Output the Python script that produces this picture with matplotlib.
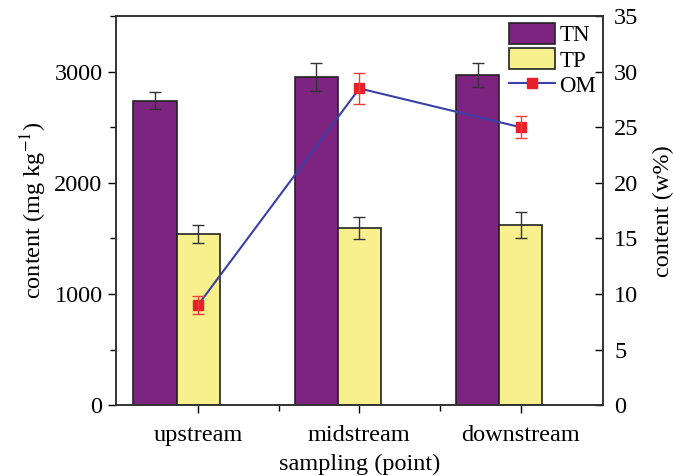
import numpy as np
import matplotlib.pyplot as plt
import matplotlib
from matplotlib.ticker import MultipleLocator

matplotlib.rcParams.update({'font.family': ['Liberation Serif', 'DejaVu Serif'],
                            'font.size': 17.5, 'mathtext.fontset': 'stix'})

sites = ['upstream', 'midstream', 'downstream']
tn = [2740, 2950, 2970]
tn_err = [75, 125, 105]
tp = [1540, 1595, 1620]
tp_err = [85, 100, 115]
om = [9.0, 28.5, 25.0]
om_err = [0.8, 1.4, 1.0]

fig = plt.figure(figsize=(6.73, 4.76), dpi=100)
ax = fig.add_axes([0.172, 0.149, 0.724, 0.817])

x = np.arange(len(sites))
w = 0.267
ebar = dict(ecolor='#333333', elinewidth=1, capsize=4, capthick=1)
b1 = ax.bar(x - w, tn, width=w, color='#7d2480', edgecolor='#222222', linewidth=1.2,
            yerr=tn_err, error_kw=ebar)
b2 = ax.bar(x, tp, width=w, color='#f8f08c', edgecolor='#222222', linewidth=1.2,
            yerr=tp_err, error_kw=ebar)
ax.set_ylim(0, 3500)
ax.set_xlim(-0.51, 2.51)
ax.set_yticks([0, 1000, 2000, 3000])
ax.yaxis.set_minor_locator(MultipleLocator(500))
ax.set_xticks(x)
ax.set_xticklabels(sites)
ax.set_xticks([0.5, 1.5], minor=True)
ax.tick_params(which='major', direction='out', length=6, width=1)
ax.tick_params(which='minor', direction='out', length=4, width=1)
ax.tick_params(axis='x', which='major', pad=8)
ax.set_xlabel('sampling (point)', labelpad=6)
ax.set_ylabel('content (mg kg$^{-1}$)', labelpad=4)

ax2 = ax.twinx()
ax2.set_ylim(0, 35)
ax2.set_yticks(np.arange(0, 36, 5))
ax2.tick_params(direction='in', length=6, width=1, pad=8)
ln, = ax2.plot(x, om, color='#3a40a8', linewidth=1.5, marker='s', markersize=7,
               markerfacecolor='#e8202a', markeredgecolor='#e8202a')
ax2.errorbar(x, om, yerr=om_err, fmt='none', ecolor='#f04040', elinewidth=1, capsize=4, capthick=1)
ax2.set_ylabel('content (w%)', labelpad=10)

for a in (ax, ax2):
    for s in a.spines.values():
        s.set_linewidth(1.2)
        s.set_color('#333333')

leg = ax2.legend([b1, b2, ln], ['TN', 'TP', 'OM'], loc='upper right', borderaxespad=0.1,
                 fontsize=16.5, handlelength=2.0, handleheight=1.0, labelspacing=0.1,
                 handletextpad=0.2, borderpad=0.2, frameon=False)

fig.savefig('out.png', dpi=100)
